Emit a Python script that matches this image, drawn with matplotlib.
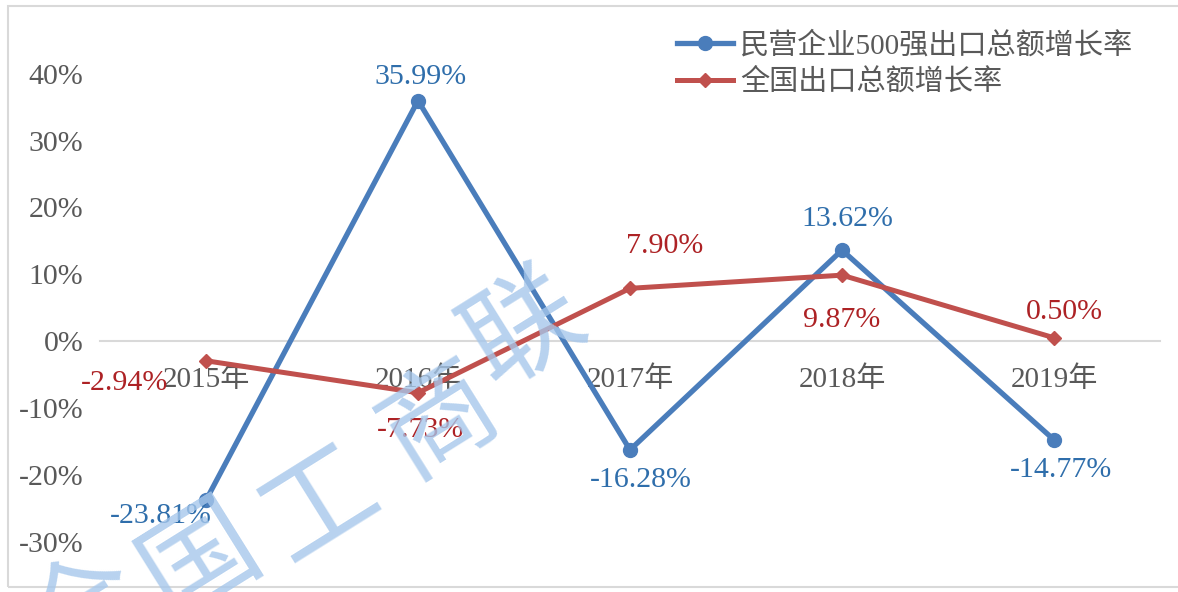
import matplotlib
matplotlib.use("Agg")
import matplotlib.pyplot as plt
from matplotlib.patches import Rectangle

plt.rcParams['font.family'] = ['Liberation Serif', 'Noto Sans CJK SC', 'DejaVu Sans']

years = ["2015年", "2016年", "2017年", "2018年", "2019年"]
private500 = [-23.81, 35.99, -16.28, 13.62, -14.77]
national = [-2.94, -7.73, 7.90, 9.87, 0.50]
private_name = "民营企业500强出口总额增长率"
national_name = "全国出口总额增长率"

# label offsets (pixels) for data labels
blue_off = [(-45, -16), (2, 24), (11, -30), (5, 31), (7, -30)]
red_off = [(-82, -22), (2, -37), (35, 42), (0, -45), (10, 26)]

BLUE = "#4a7dbb"
RED = "#c0504d"
BLUE_TXT = "#2f6eab"
RED_TXT = "#ad2225"
GRAY = "#595959"

fig = plt.figure(figsize=(11.78, 5.92), dpi=100)
ax = fig.add_axes([100 / 1178, 1 - 575 / 592, 1060 / 1178, 568 / 592])

x = list(range(len(years)))
ax.plot(x, [v / 100 for v in private500], color=BLUE, lw=3.8, marker="o",
        ms=10, label=private_name, zorder=3)
ax.plot(x, [v / 100 for v in national], color=RED, lw=3.6, marker="D",
        ms=7, label=national_name, zorder=3)

for i, v in enumerate(private500):
    ax.annotate(f"{v:.2f}%", (i, v / 100), xytext=blue_off[i], textcoords="offset pixels",
                ha="center", va="center", fontsize=21.5, color=BLUE_TXT, zorder=4)
for i, v in enumerate(national):
    ax.annotate(f"{v:.2f}%", (i, v / 100), xytext=red_off[i], textcoords="offset pixels",
                ha="center", va="center", fontsize=21.5, color=RED_TXT, zorder=4)

ax.set_xlim(-0.5, len(years) - 0.5)
ax.set_ylim(-0.35, 0.5)
ax.set_yticks([-0.3, -0.2, -0.1, 0, 0.1, 0.2, 0.3, 0.4])
ax.set_yticklabels([f"{int(round(t * 100))}%" for t in ax.get_yticks()])
ax.set_xticks(x)
ax.set_xticklabels(years)
ax.tick_params(axis="y", length=0, pad=12, labelsize=21.5, labelcolor=GRAY)
ax.tick_params(axis="x", length=0, pad=18, labelsize=21, labelcolor=GRAY)
for s in ["top", "right", "left"]:
    ax.spines[s].set_visible(False)
ax.spines["bottom"].set_position(("data", 0))
ax.spines["bottom"].set_color("#d9d9d9")
ax.spines["bottom"].set_linewidth(1.5)
ax.patch.set_alpha(0)

leg = ax.legend(loc="upper left", bbox_to_anchor=(557 / 1060, 0.992), frameon=False,
                fontsize=21, handlelength=1.9, handletextpad=0.25, labelspacing=0.3,
                borderaxespad=0.3)
for t in leg.get_texts():
    t.set_color(GRAY)

# chart border
fig.patches.append(Rectangle((8 / 1178, 1 - 587 / 592), 1.2, 581 / 592,
                             transform=fig.transFigure, fill=False,
                             edgecolor="#d9d9d9", lw=1.5))

# watermark
wm_chars = ["全", "国", "工", "商", "联"]
wm_pos = [(85, 615), (200, 560), (320, 505), (440, 420), (525, 330)]
for ch, (px, py) in zip(wm_chars, wm_pos):
    fig.text(px / 1178, 1 - py / 592, ch, rotation=32, ha="center", va="center",
             fontsize=82, color="#a6c7eb", alpha=0.8, family="Noto Sans CJK SC",
             zorder=10)

fig.savefig("out.png", dpi=100)
